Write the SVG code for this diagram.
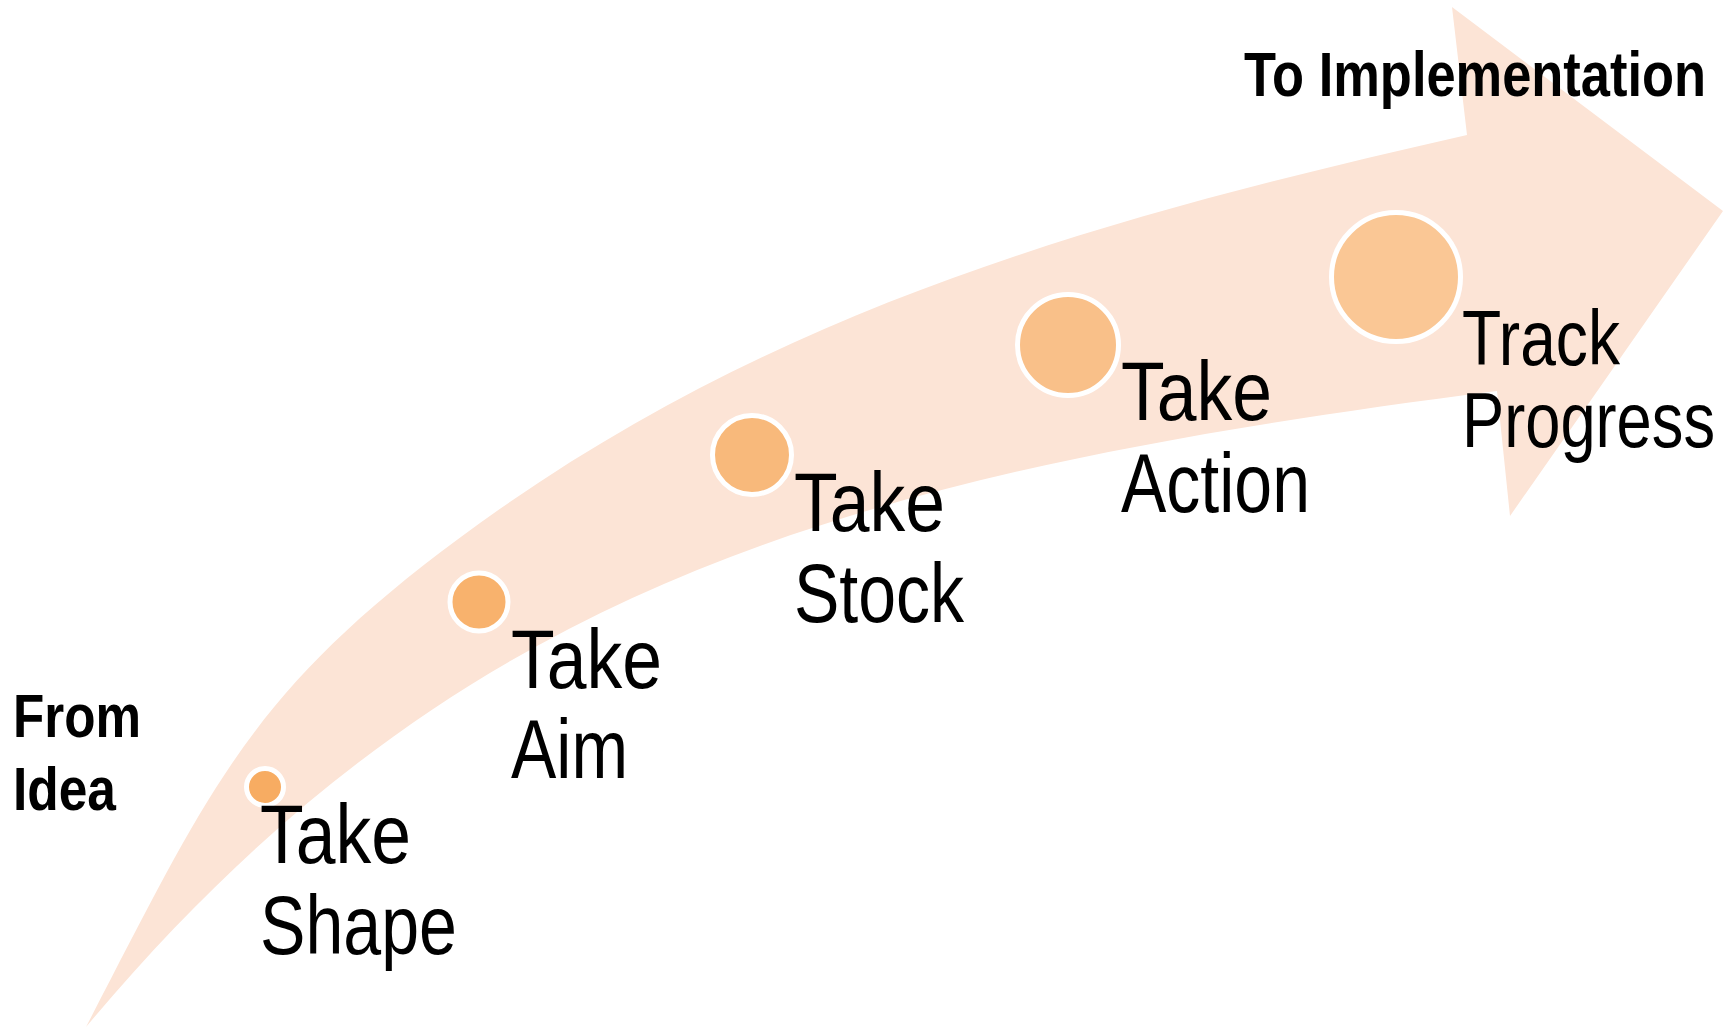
<svg xmlns="http://www.w3.org/2000/svg" width="1729" height="1028" viewBox="0 0 1729 1028">
  <style>
    .lbl { font-family: "Liberation Sans Narrow", "Arial Narrow", "Liberation Sans", Arial, sans-serif; fill: #000000; }
    .big { font-size: 83px; }
    .mid { font-size: 77px; }
    .bold { font-weight: bold; }
    .dot { stroke: #FFFFFF; stroke-width: 5; }
  </style>
  <rect width="1729" height="1028" fill="#FFFFFF"/>
  <g id="flow-arrow">
    <path d="M86,1027 C215,778 253,687 480,523 C780,307 1106,217 1467,135 L1452,7 L1723,211 L1510,516 L1497,391 C847,474 456,585 86,1027 Z" fill="#FCE4D6"/>
  </g>
  <g id="connectors"></g>
  <g id="from-idea">
    <text class="lbl bold" font-size="62" x="13" y="737" textLength="128" lengthAdjust="spacingAndGlyphs">From</text>
    <text class="lbl bold" font-size="62" x="13" y="810" textLength="103" lengthAdjust="spacingAndGlyphs">Idea</text>
  </g>
  <g id="to-implementation">
    <text class="lbl bold" font-size="63" x="1244" y="96" textLength="462" lengthAdjust="spacingAndGlyphs">To Implementation</text>
  </g>
  <g id="take-shape">
    <circle class="dot" cx="265" cy="787" r="18.5" fill="#F7AC62" stroke-width="4.5"/>
    <text class="lbl big" x="260" y="863" textLength="151" lengthAdjust="spacingAndGlyphs">Take</text>
    <text class="lbl big" x="260" y="954" textLength="197" lengthAdjust="spacingAndGlyphs">Shape</text>
  </g>
  <g id="take-aim">
    <circle class="dot" cx="479" cy="602" r="29" fill="#F8B26D"/>
    <text class="lbl big" x="511" y="688" textLength="151" lengthAdjust="spacingAndGlyphs">Take</text>
    <text class="lbl big" x="511" y="778" textLength="117" lengthAdjust="spacingAndGlyphs">Aim</text>
  </g>
  <g id="take-stock">
    <circle class="dot" cx="752" cy="455" r="39.5" fill="#F8B97B"/>
    <text class="lbl big" x="794" y="531" textLength="151" lengthAdjust="spacingAndGlyphs">Take</text>
    <text class="lbl big" x="794" y="622" textLength="170" lengthAdjust="spacingAndGlyphs">Stock</text>
  </g>
  <g id="take-action">
    <circle class="dot" cx="1068" cy="345" r="50.5" fill="#F9C089"/>
    <text class="lbl big" x="1121" y="420" textLength="151" lengthAdjust="spacingAndGlyphs">Take</text>
    <text class="lbl big" x="1121" y="512" textLength="189" lengthAdjust="spacingAndGlyphs">Action</text>
  </g>
  <g id="track-progress">
    <circle class="dot" cx="1396" cy="277" r="64.5" fill="#FAC795"/>
    <text class="lbl mid" x="1462" y="365" textLength="158" lengthAdjust="spacingAndGlyphs">Track</text>
    <text class="lbl mid" x="1462" y="447" textLength="253" lengthAdjust="spacingAndGlyphs">Progress</text>
  </g>
</svg>
